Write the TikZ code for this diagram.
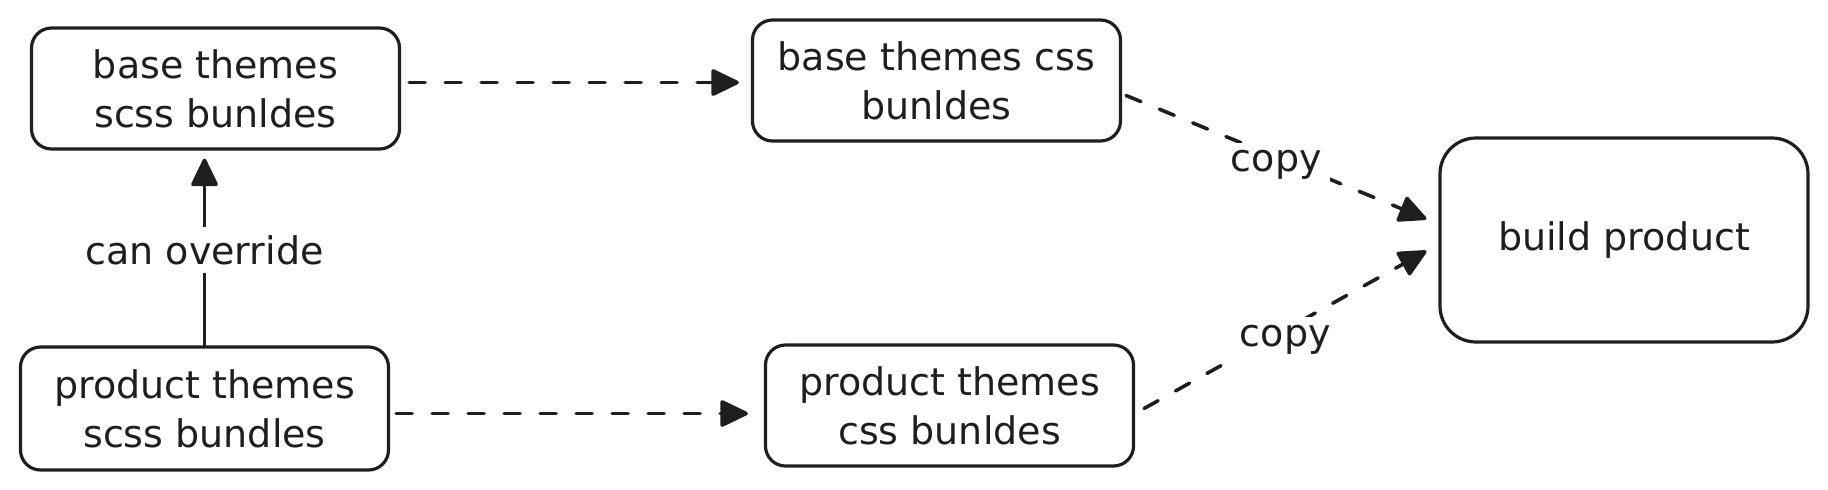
\documentclass[tikz,border=0pt]{standalone}
\usepackage{fontspec}
\setmainfont{DejaVu Sans}
\usetikzlibrary{arrows.meta}
\definecolor{ink}{HTML}{1E1E1E}

\begin{document}
\begin{tikzpicture}[x=0.5pt,y=-0.5pt,
  box/.style={draw=ink,line width=1.6pt,rounded corners=10pt,align=center,
    text=ink,font=\fontsize{19pt}{24.5pt}\selectfont,inner sep=0pt,
    minimum width=184pt,minimum height=60.5pt},
  flow/.style={draw=ink,line width=1.8pt,line cap=round,
    -{Triangle[length=15pt,width=14pt,round]}},
  copyflow/.style={flow,dash pattern=on 8pt off 10pt},
  tag/.style={fill=white,text=ink,font=\fontsize{19pt}{24.5pt}\selectfont,inner sep=4pt}]

\useasboundingbox (0,0) rectangle (1828,489);

% Theme bundles
\node[box] (basescss) at (215.5,88.5) {base themes\\ scss bunldes};
\node[box] (basecss) at (936.5,80.5) {base themes css\\ bunldes};
\node[box,minimum height=61.5pt] (prodscss) at (204.5,408.5) {product themes\\ scss bundles};
\node[box] (prodcss) at (949.5,405.5) {product themes\\ css bunldes};

% Build
\node[box,rounded corners=18pt,minimum height=102pt] (build) at (1624,240) {build product};

% Compile
\draw[copyflow,shorten <=4pt,shorten >=6pt]
  ([shift={(0,-6)}]basescss.east) -- ([shift={(0,-6)}]basescss.east -| basecss.west);
\draw[copyflow,shorten <=3pt,shorten >=8pt]
  ([shift={(0,5)}]prodscss.east) -- ([shift={(0,5)}]prodscss.east -| prodcss.west);

% Override
\draw[flow,shorten >=4pt] (prodscss.north) -- (prodscss.north |- basescss.south)
  node[tag,midway,yshift=-1pt] (override) {can override};

% Copy into build
\draw[copyflow] ([shift={(4,15)}]basecss.east) -- ([shift={(-12,-21)}]build.west)
  node[tag,midway,yshift=-4pt] (copytop) {copy};
\draw[copyflow] ([shift={(9,3)}]prodcss.east) -- ([shift={(-12,11)}]build.west)
  node[tag,midway,yshift=-5pt] (copybottom) {copy};

\end{tikzpicture}
\end{document}
